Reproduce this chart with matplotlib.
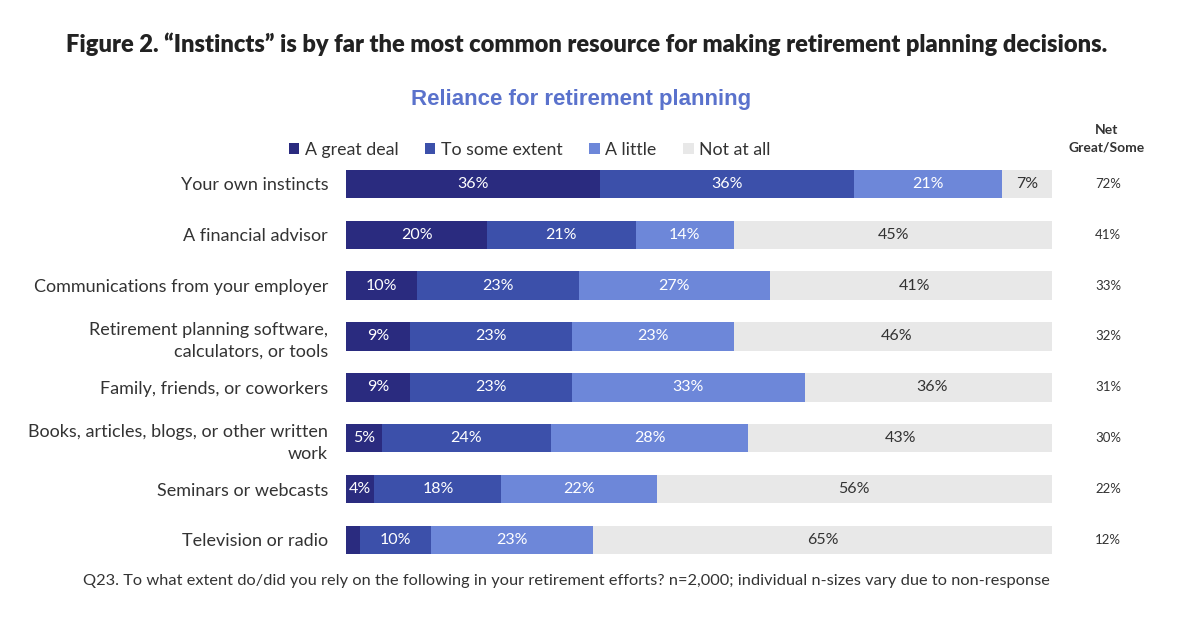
import matplotlib.pyplot as plt
import numpy as np

plt.rcParams['font.family'] = ['Lato', 'DejaVu Sans']

# --- data ---
categories = [
    "Your own instincts",
    "A financial advisor",
    "Communications from your employer",
    "Retirement planning software,\ncalculators, or tools",
    "Family, friends, or coworkers",
    "Books, articles, blogs, or other written\nwork",
    "Seminars or webcasts",
    "Television or radio",
]
great_deal = [36, 20, 10, 9, 9, 5, 4, 2]
some_extent = [36, 21, 23, 23, 23, 24, 18, 10]
a_little = [21, 14, 27, 23, 33, 28, 22, 23]
not_at_all = [7, 45, 41, 46, 36, 43, 56, 65]
net_great_some = [72, 41, 33, 32, 31, 30, 22, 12]

series_names = ["A great deal", "To some extent", "A little", "Not at all"]
colors = ["#2a2b7f", "#3c50aa", "#6d87d9", "#e8e8e8"]
text_colors = ["white", "white", "white", "#333333"]

fig = plt.figure(figsize=(11.98, 6.24), dpi=100)
fig.patch.set_facecolor("white")
ax = fig.add_axes([0.289, 0.094, 0.589, 0.652])

y = np.arange(len(categories))
left = np.zeros(len(categories))
handles = []
for vals, name, col, tcol in zip([great_deal, some_extent, a_little, not_at_all],
                                 series_names, colors, text_colors):
    vals = np.array(vals, dtype=float)
    bars = ax.barh(y, vals, left=left, height=0.56, color=col, label=name)
    handles.append(bars)
    for yi, l, v in zip(y, left, vals):
        if v >= 3:
            ax.text(l + v / 2, yi, f"{int(v)}%", ha="center", va="center",
                    color=tcol, fontsize=11.5)
    left = left + vals

ax.set_xlim(0, 100)
ax.set_ylim(len(categories) - 0.5, -0.5)
ax.set_yticks(y)
ax.set_yticklabels(categories, fontsize=13, color="#333333")
for lbl in ax.get_yticklabels():
    lbl.set_horizontalalignment("right")
    lbl.set_multialignment("right")
    lbl.set_linespacing(1.45)
ax.tick_params(axis="y", length=0, pad=13)
ax.set_xticks([])
for s in ax.spines.values():
    s.set_visible(False)

# net column
for yi, n in zip(y, net_great_some):
    ax.text(1.08, yi, f"{n}%", transform=ax.get_yaxis_transform(),
            ha="center", va="center", fontsize=9.5, color="#333333")
fig.text(0.924, 0.778, "Net\nGreat/Some", ha="center", va="center",
         fontsize=10, fontweight="bold", color="#333333", linespacing=1.5)

# legend
fig.legend(handles, series_names, loc="center", bbox_to_anchor=(0.442, 0.760),
           ncol=4, frameon=False, fontsize=12.8, handlelength=0.6, handleheight=0.6,
           handletextpad=0.3, columnspacing=1.5, labelcolor="#333333")

fig.text(0.49, 0.929,
         "Figure 2. \u201cInstincts\u201d is by far the most common resource for making retirement planning decisions.",
         ha="center", va="center", fontsize=17, fontweight="heavy", color="#222222")
fig.text(0.485, 0.84, "Reliance for retirement planning", ha="center", va="center",
         fontsize=16, fontweight="bold", color="#5a72cc", family=["Liberation Sans"])
fig.text(0.069, 0.069,
         "Q23. To what extent do/did you rely on the following in your retirement efforts? n=2,000; individual n-sizes vary due to non-response",
         ha="left", va="center", fontsize=11.8, color="#333333")

fig.savefig("out.png", dpi=100, facecolor="white")
